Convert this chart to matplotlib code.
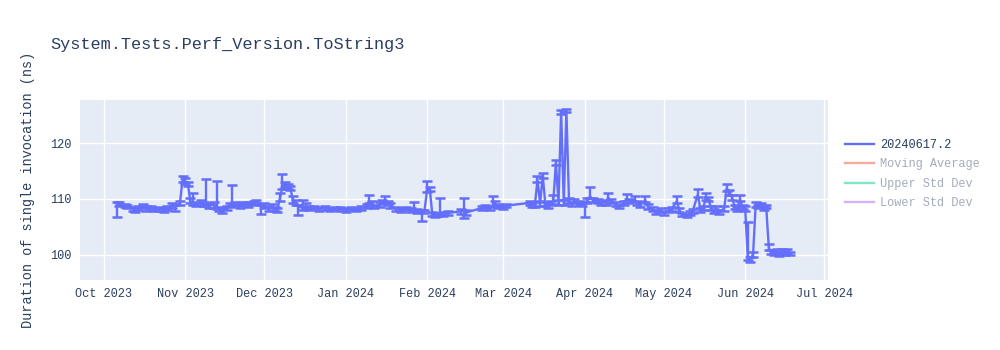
import pandas as pd
import numpy as np
import matplotlib
matplotlib.use("Agg")
import matplotlib.pyplot as plt
import matplotlib.dates as mdates
from matplotlib.lines import Line2D

# run dates, mean duration (ns), error below, error above
dates = [
    "2023-10-06", "2023-10-07", "2023-10-09", "2023-10-10", "2023-10-12", "2023-10-13", "2023-10-14",
    "2023-10-16", "2023-10-17", "2023-10-19", "2023-10-20", "2023-10-22", "2023-10-24", "2023-10-25",
    "2023-10-27", "2023-10-28", "2023-10-30", "2023-10-31", "2023-11-01", "2023-11-02", "2023-11-03",
    "2023-11-04", "2023-11-05", "2023-11-07", "2023-11-08", "2023-11-09", "2023-11-10", "2023-11-12",
    "2023-11-13", "2023-11-14", "2023-11-15", "2023-11-17", "2023-11-18", "2023-11-19", "2023-11-20",
    "2023-11-22", "2023-11-23", "2023-11-25", "2023-11-27", "2023-11-28", "2023-11-30", "2023-12-01",
    "2023-12-03", "2023-12-04", "2023-12-05", "2023-12-06", "2023-12-07", "2023-12-08", "2023-12-09",
    "2023-12-10", "2023-12-11", "2023-12-12", "2023-12-13", "2023-12-14", "2023-12-16", "2023-12-17",
    "2023-12-18", "2023-12-20", "2023-12-22", "2023-12-24", "2023-12-26", "2023-12-28", "2023-12-30",
    "2024-01-01", "2024-01-03", "2024-01-05", "2024-01-07", "2024-01-09", "2024-01-10", "2024-01-11",
    "2024-01-12", "2024-01-14", "2024-01-15", "2024-01-16", "2024-01-17", "2024-01-18", "2024-01-20",
    "2024-01-22", "2024-01-24", "2024-01-26", "2024-01-27", "2024-01-28", "2024-01-30", "2024-01-31",
    "2024-02-01", "2024-02-02", "2024-02-03", "2024-02-04", "2024-02-05", "2024-02-06", "2024-02-07",
    "2024-02-09", "2024-02-14", "2024-02-15", "2024-02-16", "2024-02-22", "2024-02-23", "2024-02-25",
    "2024-02-26", "2024-02-27", "2024-02-28", "2024-03-01", "2024-03-02", "2024-03-11", "2024-03-12",
    "2024-03-13", "2024-03-14", "2024-03-15", "2024-03-16", "2024-03-17", "2024-03-18", "2024-03-19",
    "2024-03-20", "2024-03-21", "2024-03-22", "2024-03-23", "2024-03-24", "2024-03-25", "2024-03-26",
    "2024-03-27", "2024-03-28", "2024-03-30", "2024-03-31", "2024-04-01", "2024-04-02", "2024-04-03",
    "2024-04-04", "2024-04-06", "2024-04-07", "2024-04-09", "2024-04-10", "2024-04-11", "2024-04-13",
    "2024-04-14", "2024-04-16", "2024-04-17", "2024-04-18", "2024-04-20", "2024-04-21", "2024-04-22",
    "2024-04-24", "2024-04-25", "2024-04-27", "2024-04-28", "2024-04-30", "2024-05-01", "2024-05-03",
    "2024-05-04", "2024-05-06", "2024-05-07", "2024-05-08", "2024-05-10", "2024-05-11", "2024-05-12",
    "2024-05-14", "2024-05-15", "2024-05-16", "2024-05-17", "2024-05-18", "2024-05-19", "2024-05-20",
    "2024-05-21", "2024-05-22", "2024-05-24", "2024-05-25", "2024-05-26", "2024-05-27", "2024-05-28",
    "2024-05-29", "2024-05-30", "2024-05-31", "2024-06-01", "2024-06-02", "2024-06-03", "2024-06-04",
    "2024-06-05", "2024-06-06", "2024-06-07", "2024-06-08", "2024-06-09", "2024-06-10", "2024-06-11",
    "2024-06-12", "2024-06-13", "2024-06-14", "2024-06-15", "2024-06-16", "2024-06-17", "2024-06-18",
]
values = [
    109.1, 109.0, 108.8, 108.6, 108.3, 108.0, 108.4,
    108.7, 108.2, 108.5, 108.1, 108.3, 108.0, 108.4,
    108.8, 108.6, 109.2, 113.5, 113.2, 112.8, 109.6,
    109.3, 109.0, 109.4, 109.1, 109.3, 108.9, 109.0,
    108.6, 108.2, 107.9, 108.3, 108.8, 109.2, 109.0,
    108.8, 109.1, 108.9, 109.3, 109.6, 108.6, 108.7,
    108.3, 108.7, 108.2, 108.0, 110.0, 112.2, 112.6,
    112.3, 112.0, 109.7, 109.3, 108.6, 108.4, 108.8,
    108.3, 108.5, 108.2, 108.4, 108.1, 108.3, 108.2,
    108.0, 108.3, 108.1, 108.4, 108.7, 109.6, 109.2,
    108.6, 109.0, 109.4, 109.8, 109.3, 108.8, 108.3,
    108.0, 108.3, 108.0, 108.3, 107.9, 107.6, 107.8,
    111.6, 111.9, 107.3, 107.0, 107.2, 107.6, 107.3,
    107.5, 107.8, 108.0, 107.6, 108.4, 108.6, 108.3,
    108.9, 109.1, 108.7, 108.5, 108.8, 109.3, 109.0,
    108.9, 113.4, 109.2, 114.2, 109.0, 108.8, 109.2,
    109.5, 116.5, 109.4, 125.6, 109.3, 125.8, 109.6,
    109.1, 109.5, 109.3, 109.0, 109.1, 109.6, 110.5,
    109.8, 109.6, 109.3, 109.4, 110.2, 109.6, 109.1,
    108.7, 109.3, 110.0, 109.6, 109.8, 109.3, 109.0,
    109.8, 108.6, 108.2, 107.7, 108.0, 107.6, 107.9,
    108.2, 109.6, 108.0, 107.2, 107.0, 107.4, 107.8,
    110.8, 108.0, 108.3, 110.2, 110.0, 108.4, 107.8,
    108.2, 107.6, 108.3, 111.9, 111.2, 110.3, 108.6,
    108.2, 110.0, 108.5, 108.3, 99.5, 99.3, 100.1,
    109.0, 108.7, 108.9, 108.4, 108.6, 101.2, 100.5,
    100.2, 100.7, 100.1, 100.6, 100.3, 100.8, 100.2,
]
err_minus = [
    2.3, 0.3, 0.3, 0.3, 0.4, 0.3, 0.3,
    0.4, 0.3, 0.3, 0.3, 0.4, 0.3, 0.3,
    0.5, 0.7, 0.3, 0.4, 0.5, 0.4, 0.4,
    0.3, 0.3, 0.5, 0.4, 0.6, 0.5, 0.6,
    0.4, 0.4, 0.4, 0.3, 0.3, 0.3, 0.3,
    0.4, 0.3, 0.4, 0.3, 0.4, 1.3, 0.4,
    0.4, 0.3, 0.4, 0.4, 0.3, 0.4, 0.4,
    0.5, 0.4, 0.4, 0.4, 1.5, 0.4, 0.4,
    0.3, 0.3, 0.3, 0.3, 0.3, 0.3, 0.3,
    0.3, 0.3, 0.3, 0.3, 0.4, 0.4, 0.4,
    0.3, 0.4, 0.3, 0.4, 0.4, 0.4, 0.5,
    0.3, 0.3, 0.3, 0.4, 0.4, 1.5, 0.3,
    0.4, 0.5, 0.3, 0.3, 0.3, 0.4, 0.3,
    0.3, 0.4, 1.4, 0.4, 0.3, 0.3, 0.3,
    0.3, 0.4, 0.3, 0.3, 0.3, 0.3, 0.4,
    0.4, 0.4, 0.4, 0.4, 0.3, 0.4, 0.3,
    0.4, 0.4, 0.4, 0.3, 0.4, 0.3, 0.4,
    0.4, 0.3, 0.4, 0.3, 2.3, 0.4, 0.4,
    0.3, 0.4, 0.3, 0.4, 0.5, 0.4, 0.4,
    0.3, 0.3, 0.4, 0.4, 0.4, 0.4, 0.5,
    0.4, 0.4, 0.4, 0.4, 0.3, 0.4, 0.3,
    0.3, 0.4, 0.3, 0.3, 0.3, 0.3, 0.3,
    0.4, 0.3, 0.3, 0.4, 0.3, 0.4, 0.3,
    0.4, 0.3, 0.4, 0.4, 0.4, 0.5, 0.4,
    0.3, 0.4, 0.3, 0.4, 0.4, 0.5, 0.4,
    0.4, 0.4, 0.3, 0.4, 0.3, 0.4, 0.4,
    0.3, 0.4, 0.3, 0.4, 0.3, 0.4, 0.3,
]
err_plus = [
    0.3, 0.4, 0.3, 0.3, 0.3, 0.4, 0.3,
    0.4, 0.5, 0.3, 0.3, 0.3, 0.4, 0.3,
    0.4, 0.4, 0.5, 0.6, 0.5, 0.3, 0.5,
    1.7, 0.4, 0.4, 0.4, 4.3, 0.4, 0.4,
    4.6, 0.4, 0.5, 0.4, 0.4, 3.3, 0.4,
    0.4, 0.4, 0.5, 0.4, 0.3, 0.4, 0.5,
    0.4, 0.4, 0.3, 0.4, 1.0, 2.2, 0.5,
    0.4, 0.3, 0.8, 0.5, 0.4, 1.5, 0.4,
    0.4, 0.3, 0.4, 0.3, 0.3, 0.3, 0.3,
    0.3, 0.3, 0.3, 0.3, 0.4, 1.2, 0.4,
    0.4, 0.5, 0.4, 0.8, 0.4, 0.5, 0.3,
    0.4, 0.3, 0.4, 1.1, 0.3, 0.4, 0.3,
    1.6, 0.3, 0.4, 0.3, 0.3, 2.5, 0.3,
    0.3, 0.4, 2.1, 0.4, 0.4, 0.4, 0.5,
    1.6, 0.5, 0.4, 0.4, 0.3, 0.4, 0.3,
    0.5, 0.8, 0.4, 0.5, 0.4, 0.4, 0.5,
    1.2, 0.4, 0.4, 0.4, 0.5, 0.3, 0.5,
    0.4, 0.5, 0.4, 0.3, 0.4, 0.5, 1.7,
    0.4, 0.4, 0.3, 0.4, 0.8, 0.4, 0.3,
    0.3, 0.4, 0.9, 0.4, 0.8, 0.4, 0.4,
    0.8, 0.5, 0.3, 0.4, 0.3, 0.3, 0.4,
    0.4, 1.0, 0.4, 0.3, 0.3, 0.4, 0.4,
    0.9, 0.4, 0.5, 0.8, 0.3, 0.3, 0.4,
    0.5, 0.4, 0.4, 0.8, 0.4, 0.4, 0.3,
    0.4, 0.7, 0.4, 0.4, 6.4, 0.4, 0.5,
    0.5, 0.3, 0.4, 0.4, 0.4, 0.8, 0.4,
    0.4, 0.3, 0.4, 0.4, 0.5, 0.3, 0.4,
]

title = "System.Tests.Perf_Version.ToString3"
legend_labels = ["20240617.2", "Moving Average", "Upper Std Dev", "Lower Std Dev"]

mono = "Liberation Mono"
text_col = "#2a3f5f"
blue = "#636efa"

x = pd.to_datetime(dates)

fig = plt.figure(figsize=(10, 3.5), dpi=100)
ax = fig.add_axes([0.08, 0.2, 0.748, 0.514])
ax.set_facecolor("#E5ECF6")
for s in ax.spines.values():
    s.set_visible(False)
ax.grid(True, color="white", linewidth=1)
ax.set_axisbelow(True)

ax.errorbar(x, values, yerr=[err_minus, err_plus], color=blue, linewidth=1.7,
            elinewidth=1.7, capsize=3.6, capthick=1.8)

ax.set_xlim(pd.Timestamp("2023-09-22"), pd.Timestamp("2024-07-02 12:00"))
ax.set_ylim(95.5, 127.7)
ax.set_yticks([100, 110, 120])
ax.xaxis.set_major_locator(mdates.MonthLocator())
ax.xaxis.set_major_formatter(mdates.DateFormatter("%b %Y"))
ax.tick_params(length=0, pad=6, labelsize=8.6, labelcolor=text_col)
for lbl in ax.get_xticklabels() + ax.get_yticklabels():
    lbl.set_fontfamily(mono)

ax.set_ylabel("Duration of single invocation (ns)", fontfamily=mono, fontsize=9.8, color=text_col)
ax.yaxis.set_label_coords(-0.06, 0.5)

fig.text(0.05, 1 - 45 / 350, title, fontfamily=mono, fontsize=12.2, color=text_col, va="center")

handles = [
    Line2D([], [], color=blue, linewidth=1.7),
    Line2D([], [], color="#f5aa9d", linewidth=1.7),
    Line2D([], [], color="#80e6ca", linewidth=1.7),
    Line2D([], [], color="#d5b1fc", linewidth=1.7),
]
leg = fig.legend(handles, legend_labels, loc="upper left", bbox_to_anchor=(0.845, 1 - 139 / 350),
                 frameon=False, prop={"family": mono, "size": 8.6}, handlelength=2.4,
                 handletextpad=0.5, labelspacing=0.62, borderaxespad=0, borderpad=0)
for i, t in enumerate(leg.get_texts()):
    t.set_color(text_col if i == 0 else "#a4acba")

fig.savefig("out.png", dpi=100)
